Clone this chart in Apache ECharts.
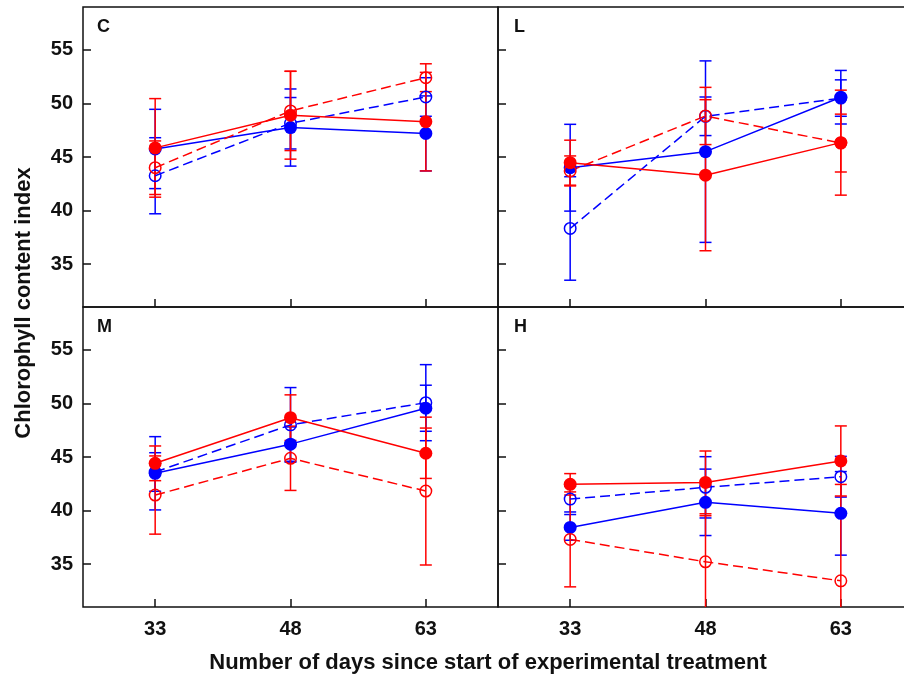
<!DOCTYPE html>
<html>
<head>
<meta charset="utf-8">
<script src="https://cdn.jsdelivr.net/npm/echarts@6/dist/echarts.min.js"></script>
<style>
  html, body { margin: 0; padding: 0; background: #fff; }
  #chart { width: 904px; height: 678px; }
</style>
</head>
<body>
<div id="chart"></div>
<script>
const days = [33, 48, 63];
const yTicks = [35, 40, 45, 50, 55];
const panelNames = ['C', 'L', 'M', 'H'];

// panel C (mean, then SE)
const cBlueSolid = [45.75, 47.75, 47.2];
const cBlueSolidSe = [3.7, 3.6, 3.5];
const cBlueDash = [43.25, 48.15, 50.6];
const cBlueDashSe = [3.55, 2.4, 1.8];
const cRedSolid = [45.85, 48.9, 48.3];
const cRedSolidSe = [4.6, 4.1, 4.6];
const cRedDash = [44.0, 49.3, 52.4];
const cRedDashSe = [2.5, 3.7, 1.3];

// panel L
const lBlueSolid = [44.0, 45.5, 50.58];
const lBlueSolidSe = [4.05, 8.47, 2.5];
const lBlueDash = [38.33, 48.8, 50.5];
const lBlueDashSe = [4.83, 1.8, 1.7];
const lRedSolid = [44.47, 43.3, 46.34];
const lRedSolidSe = [2.1, 7.05, 4.9];
const lRedDash = [43.7, 48.83, 46.3];
const lRedDashSe = [1.4, 2.67, 2.7];

// panel M
const mBlueSolid = [43.48, 46.2, 49.55];
const mBlueSolidSe = [3.42, 1.6, 2.15];
const mBlueDash = [43.6, 48.0, 50.07];
const mBlueDashSe = [1.8, 3.48, 3.55];
const mRedSolid = [44.41, 48.67, 45.35];
const mRedSolidSe = [1.62, 2.13, 2.35];
const mRedDash = [41.45, 44.88, 41.82];
const mRedDashSe = [3.65, 3.0, 6.9];

// panel H
const hBlueSolid = [38.43, 40.77, 39.74];
const hBlueSolidSe = [1.2, 3.1, 3.9];
const hBlueDash = [41.07, 42.17, 43.16];
const hBlueDashSe = [1.2, 2.86, 1.9];
const hRedSolid = [42.45, 42.63, 44.63];
const hRedSolidSe = [1.0, 2.93, 3.27];
const hRedDash = [37.31, 35.22, 33.44];
const hRedDashSe = [4.43, 4.3, 9.0];

const RED = '#ff0000';
const BLUE = '#0000ff';
const AXIS = '#111';
const FONT = 'Liberation Sans, Arial, sans-serif';

// order: blue first so red sits on top
const groups = [
  { color: BLUE, filled: true },
  { color: BLUE, filled: false },
  { color: RED, filled: true },
  { color: RED, filled: false }
];

const panelSeries = [
  [[cBlueSolid, cBlueSolidSe], [cBlueDash, cBlueDashSe], [cRedSolid, cRedSolidSe], [cRedDash, cRedDashSe]],
  [[lBlueSolid, lBlueSolidSe], [lBlueDash, lBlueDashSe], [lRedSolid, lRedSolidSe], [lRedDash, lRedDashSe]],
  [[mBlueSolid, mBlueSolidSe], [mBlueDash, mBlueDashSe], [mRedSolid, mRedSolidSe], [mRedDash, mRedDashSe]],
  [[hBlueSolid, hBlueSolidSe], [hBlueDash, hBlueDashSe], [hRedSolid, hRedSolidSe], [hRedDash, hRedDashSe]]
];

// right-hand panels run past the canvas edge, as in the original crop
const gridPos = [
  { left: 83, top: 7 },
  { left: 498, top: 7 },
  { left: 83, top: 307 },
  { left: 498, top: 307 }
];

const grid = gridPos.map(p => ({
  left: p.left, top: p.top, width: 415, height: 300,
  outerBoundsMode: 'none', containLabel: false,
  show: true, borderColor: AXIS, borderWidth: 1.5, backgroundColor: 'transparent'
}));

const xAxis = gridPos.map((p, i) => ({
  type: 'value', gridIndex: i, min: 25, max: 71,
  axisLine: { show: false },
  splitLine: { show: false },
  axisTick: { show: true, inside: true, length: 8, customValues: days, lineStyle: { color: AXIS, width: 1.5 } },
  axisLabel: {
    show: i >= 2, customValues: days, margin: 12,
    color: '#111', fontSize: 20, fontWeight: 'bold', fontFamily: FONT
  }
}));

const yAxis = gridPos.map((p, i) => ({
  type: 'value', gridIndex: i, min: 31, max: 59,
  axisLine: { show: false },
  splitLine: { show: false },
  axisTick: { show: true, inside: true, length: 8, customValues: yTicks, lineStyle: { color: AXIS, width: 1.5 } },
  axisLabel: {
    show: i % 2 === 0, customValues: yTicks, margin: 10,
    color: '#111', fontSize: 20, fontWeight: 'bold', fontFamily: FONT
  }
}));

function errorBars(color) {
  return function (params, api) {
    const x = api.value(0);
    const lo = api.coord([x, api.value(1)]);
    const hi = api.coord([x, api.value(2)]);
    const w = 6;
    const st = { stroke: color, lineWidth: 1.5 };
    return {
      type: 'group',
      children: [
        { type: 'line', shape: { x1: lo[0], y1: lo[1], x2: hi[0], y2: hi[1] }, style: st },
        { type: 'line', shape: { x1: lo[0] - w, y1: lo[1], x2: lo[0] + w, y2: lo[1] }, style: st },
        { type: 'line', shape: { x1: hi[0] - w, y1: hi[1], x2: hi[0] + w, y2: hi[1] }, style: st }
      ]
    };
  };
}

const series = [];
panelSeries.forEach((list, i) => {
  list.forEach(([mean, se], g) => {
    const grp = groups[g];
    series.push({
      type: 'custom', xAxisIndex: i, yAxisIndex: i, clip: true, z: 2,
      data: days.map((d, k) => [d, mean[k] - se[k], mean[k] + se[k]]),
      encode: { x: 0, y: [1, 2] },
      renderItem: errorBars(grp.color)
    });
  });
  list.forEach(([mean], g) => {
    const grp = groups[g];
    series.push({
      type: 'line', xAxisIndex: i, yAxisIndex: i, z: 3,
      data: days.map((d, k) => [d, mean[k]]),
      symbol: 'circle', symbolSize: grp.filled ? 13 : 11.5, showSymbol: true,
      lineStyle: { color: grp.color, width: 1.5, type: grp.filled ? 'solid' : [10, 5] },
      itemStyle: grp.filled
        ? { color: grp.color }
        : { color: 'rgba(255,255,255,0)', borderColor: grp.color, borderWidth: 1.5 },
      emphasis: { disabled: true }
    });
  });
});

const labelPos = [[97, 27], [514, 27], [97, 327], [514, 327]];
const graphic = panelNames.map((name, i) => ({
  type: 'text', x: labelPos[i][0], y: labelPos[i][1],
  style: { text: name, fill: '#111', font: 'bold 18px ' + FONT, textVerticalAlign: 'middle' }
}));
graphic.push({
  type: 'text', x: 24, y: 303, rotation: Math.PI / 2,
  style: { text: 'Chlorophyll content index', fill: '#111', font: 'bold 22px ' + FONT, textAlign: 'center', textVerticalAlign: 'middle' }
});
graphic.push({
  type: 'text', x: 488, y: 663,
  style: { text: 'Number of days since start of experimental treatment', fill: '#111', font: 'bold 22px ' + FONT, textAlign: 'center', textVerticalAlign: 'middle' }
});

const chart = echarts.init(document.getElementById('chart'));
chart.setOption({
  animation: false,
  backgroundColor: '#fff',
  grid, xAxis, yAxis, series, graphic
});
window.addEventListener('resize', () => chart.resize());
</script>
</body>
</html>
